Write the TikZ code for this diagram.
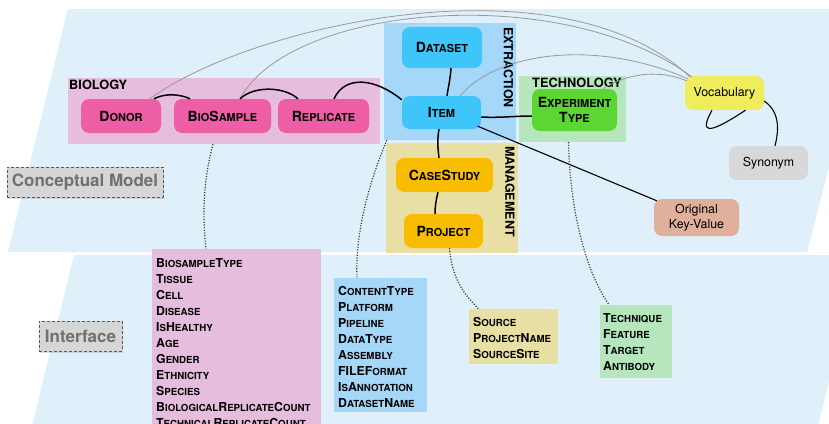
\documentclass[tikz,border=0pt]{standalone}
\usepackage{fontspec}
\setmainfont{TeX Gyre Heros}
\usetikzlibrary{shadows}
\definecolor{plane}{HTML}{DFF0FA}
\definecolor{bioL}{HTML}{E6BDDD}
\definecolor{bioN}{HTML}{EE5EA6}
\definecolor{extL}{HTML}{A5D8F8}
\definecolor{extN}{HTML}{3EC5FA}
\definecolor{tecL}{HTML}{B6E7BC}
\definecolor{tecN}{HTML}{5CD632}
\definecolor{manL}{HTML}{E8DFA5}
\definecolor{manN}{HTML}{F8BD00}
\definecolor{vocN}{HTML}{F0ED5D}
\definecolor{synN}{HTML}{D8D8D8}
\definecolor{okvN}{HTML}{E0B09A}
\definecolor{lblF}{HTML}{D6D6D6}
\definecolor{lblT}{HTML}{707070}
\newcommand\Bn[1]{{\fontsize{14}{15}\selectfont #1}}
\newcommand\Bl[1]{{\fontsize{12.3}{16}\selectfont #1}}
\tikzset{
  ent/.style={rounded corners=8pt, inner sep=0pt, align=center,
    font=\bfseries\fontsize{11}{15}\selectfont},
  plainent/.style={rounded corners=8pt, inner sep=0pt, align=center,
    font=\fontsize{12.4}{15}\selectfont},
  grp/.style={inner sep=0pt},
  listtxt/.style={anchor=north west, inner sep=0pt, align=left,
    font=\bfseries\fontsize{9.7}{16}\selectfont},
  grplbl/.style={inner sep=0pt, font=\bfseries\fontsize{12.8}{14}\selectfont},
  vlbl/.style={inner sep=0pt, rotate=-90, font=\bfseries\fontsize{12.5}{14}\selectfont},
  tag/.style={fill=lblF, draw=black!65, densely dashed, line width=0.8pt,
    text=lblT, inner sep=0pt, font=\bfseries\fontsize{17}{19}\selectfont,
    drop shadow={shadow xshift=1pt, shadow yshift=-1.5pt, opacity=0.25}},
  blk/.style={line width=1.5pt, black},
  gry/.style={line width=0.8pt, black!40},
  dots/.style={line width=1.2pt, black!80, dash pattern=on 1.1pt off 1.6pt},
}
\begin{document}
\begin{tikzpicture}[x=1pt,y=-1pt]
\useasboundingbox (0,0) rectangle (829,423);
\clip (0,0) rectangle (829,423);
\fill[white] (0,0) rectangle (829,423);
% planes
\fill[plane] (68,9) -- (870,9) -- (807,252) -- (8,252) -- cycle;
\fill[plane] (74,255) -- (860,255) -- (817,430) -- (31,430) -- cycle;

% group boxes
\node[grp, fill=bioL, minimum width=312pt, minimum height=66pt] (biogrp) at (224,111) {};
\node[grp, fill=extL, minimum width=132pt, minimum height=117pt] (extgrp) at (450,81.5) {};
\node[grp, fill=tecL, minimum width=107pt, minimum height=66pt] (tecgrp) at (572.5,109) {};
\node[grp, fill=manL, minimum width=132pt, minimum height=110pt] (mangrp) at (452,198) {};

\node[grplbl, anchor=base west] (biolbl) at (69,89) {BIOLOGY};
\node[grplbl, anchor=base west] (teclbl) at (532,87) {TECHNOLOGY};
\node[vlbl] (extlbl) at (508.5,67.5) {EXTRACTION};
\node[vlbl] (manlbl) at (510,191.5) {MANAGEMENT};

% list boxes
\node[grp, fill=bioL, minimum width=169pt, minimum height=181pt] (biolist) at (236.5,339.5) {};
\node[grp, fill=extL, minimum width=93pt, minimum height=134pt] (extlist) at (380.5,345) {};
\node[grp, fill=manL, minimum width=89pt, minimum height=55pt] (manlist) at (513.5,336.5) {};
\node[grp, fill=tecL, minimum width=72pt, minimum height=73pt] (teclist) at (636,341.5) {};

\node[listtxt] (biotxt) at (156,258) {\Bl{B}IOSAMPLE\Bl{T}YPE\\ \Bl{T}ISSUE\\ \Bl{C}ELL\\ \Bl{D}ISEASE\\ \Bl{I}S\Bl{H}EALTHY\\ \Bl{A}GE\\ \Bl{G}ENDER\\ \Bl{E}THNICITY\\ \Bl{S}PECIES\\ \Bl{B}IOLOGICAL\Bl{R}EPLICATE\Bl{C}OUNT\\ \Bl{T}ECHNICAL\Bl{R}EPLICATE\Bl{C}OUNT};
\node[listtxt] (exttxt) at (338,286.5) {\Bl{C}ONTENT\Bl{T}YPE\\ \Bl{P}LATFORM\\ \Bl{P}IPELINE\\ \Bl{D}ATA\Bl{T}YPE\\ \Bl{A}SSEMBLY\\ \Bl{FILEF}ORMAT\\ \Bl{I}S\Bl{A}NNOTATION\\ \Bl{D}ATASET\Bl{N}AME};
\node[listtxt] (mantxt) at (473,317) {\Bl{S}OURCE\\ \Bl{P}ROJECT\Bl{N}AME\\ \Bl{S}OURCE\Bl{S}ITE};
\node[listtxt] (tectxt) at (603,313) {\Bl{T}ECHNIQUE\\ \Bl{F}EATURE\\ \Bl{T}ARGET\\ \Bl{A}NTIBODY};

% tags
\node[tag, minimum width=156pt, minimum height=30pt] (cm) at (85,182) {Conceptual Model};
\node[tag, minimum width=83pt, minimum height=30pt] (intf) at (80.5,336) {Interface};

% entity nodes
\node[ent, fill=bioN, minimum width=80pt, minimum height=34pt] (donor) at (121,116) {\Bn{D}ONOR};
\node[ent, fill=bioN, minimum width=97pt, minimum height=34pt] (bios) at (222.5,116) {\Bn{B}IO\Bn{S}AMPLE};
\node[ent, fill=bioN, minimum width=91pt, minimum height=34pt] (rep) at (323.5,116) {\Bn{R}EPLICATE};
\node[ent, fill=extN, minimum width=80pt, minimum height=41pt] (dataset) at (442,47.5) {\Bn{D}ATASET};
\node[ent, fill=extN, minimum width=79pt, minimum height=33pt] (item) at (441.5,112.5) {\Bn{I}TEM};
\node[ent, fill=tecN, minimum width=85pt, minimum height=42pt] (exp) at (574.5,110) {\Bn{E}XPERIMENT\\\Bn{T}YPE};
\node[ent, fill=manN, minimum width=97pt, minimum height=34pt] (case) at (444.5,175) {\Bn{C}ASE\Bn{S}TUDY};
\node[ent, fill=manN, minimum width=79pt, minimum height=34pt] (proj) at (443.5,231) {\Bn{P}ROJECT};
\node[plainent, fill=vocN, minimum width=79pt, minimum height=34pt] (vocab) at (724.5,93) {Vocabulary};
\node[plainent, fill=synN, minimum width=79pt, minimum height=34pt] (syn) at (768.5,163) {Synonym};
\node[plainent, fill=okvN, minimum width=85pt, minimum height=37pt] (okv) at (696.5,217.5) {Original\\Key-Value};

% gray links to vocabulary
\draw[gry] ([xshift=29pt]donor.north) .. controls (250,25) and (560,-45) .. ([xshift=5pt,yshift=-1pt]vocab.north west);
\draw[gry] ([xshift=17.5pt]bios.north) .. controls (290,5) and (560,-20) .. ([xshift=7pt,yshift=-1pt]vocab.north west);
\draw[gry] ([xshift=18.5pt]item.north) .. controls (500,50) and (600,40) .. ([xshift=3pt,yshift=-3pt]vocab.north west);
\draw[gry] ([xshift=28.5pt]exp.north) .. controls (630,72) and (660,70) .. ([xshift=2pt,yshift=-5pt]vocab.north west);

% black links
\draw[blk] ([xshift=33pt]donor.north) .. controls (165,93) and (180,94) .. ([xshift=-32.5pt]bios.north);
\draw[blk] ([xshift=17.5pt]bios.north) .. controls (255,85) and (285,87) .. ([xshift=-25.5pt]rep.north);
\draw[blk] ([xshift=10.5pt]rep.north) .. controls (345,75) and (375,78) .. ([yshift=-4pt]item.north west);
\draw[blk] ([xshift=9pt]dataset.south) .. controls (450,82) and (448,88) .. ([xshift=5.5pt]item.north);
\draw[blk] ([yshift=-4.5pt]item.east) .. controls (500,118) and (515,116) .. ([yshift=-6pt]exp.west);
\draw[blk] ([xshift=-2.5pt]item.south) .. controls (437,140) and (438,150) .. ([xshift=-5.5pt]case.north);
\draw[blk] ([xshift=-6.5pt]case.south) .. controls (436,200) and (435,207) .. ([xshift=-8.5pt]proj.north);
\draw[line width=1.1pt] ([xshift=-3.5pt,yshift=3pt]item.south east) -- ([xshift=3pt,yshift=-2pt]okv.north west);
\draw[line width=1.1pt] ([yshift=-8pt]vocab.east) .. controls (780,112) and (779,130) .. ([xshift=6.5pt]syn.north);
\draw[line width=1.1pt] ([xshift=-12.5pt]vocab.south) .. controls (700,132) and (705,137) .. ([xshift=21pt]vocab.south);

% dotted links to interface lists
\draw[dots] ([xshift=-11pt]biogrp.south) .. controls (202,185) and (203,220) .. ([xshift=-30.5pt]biolist.north);
\draw[dots] ([xshift=3pt]extgrp.south west) .. controls (368,185) and (355,235) .. ([xshift=-23.5pt]extlist.north);
\draw[dots] ([xshift=6pt]proj.south) .. controls (452,280) and (465,295) .. ([xshift=-35pt]manlist.north);
\draw[dots] ([xshift=-4pt]tecgrp.south) .. controls (570,210) and (585,270) .. ([xshift=-27pt]teclist.north);
\end{tikzpicture}
\end{document}
